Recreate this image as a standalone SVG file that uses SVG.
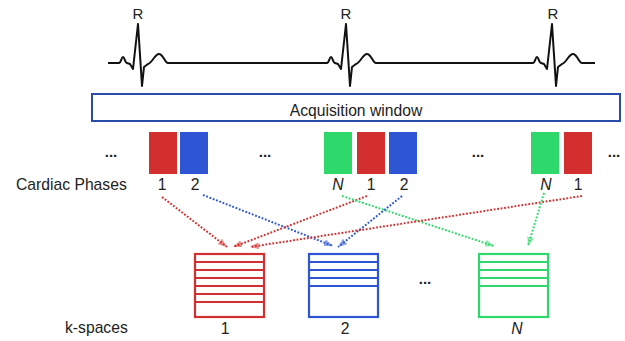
<svg xmlns="http://www.w3.org/2000/svg" width="625" height="341" viewBox="0 0 625 341">
  <style>
    text { font-family: "Liberation Sans", Arial, sans-serif; fill: #222; }
    .lbl { font-size: 15.7px; text-anchor: middle; }
    .side { font-size: 15.7px; }
    .it { font-style: italic; }
    .dots { font-size: 15px; font-weight: bold; text-anchor: middle; }
    .red { fill: #d32f2f; }
    .blue { fill: #2e55d4; }
    .green { fill: #2ed86a; }
    .ks { fill: #fff; stroke-width: 2.2; }
    .ksr { stroke: #d32f2f; }
    .ksb { stroke: #2e55d4; }
    .ksg { stroke: #2ed86a; }
    .link { fill: none; stroke-width: 2; stroke-dasharray: 1.8 1.7; }
    .lr { stroke: #d32f2f; marker-end: url(#ah-r); }
    .lb { stroke: #2e55d4; marker-end: url(#ah-b); }
    .lg { stroke: #2ed86a; marker-end: url(#ah-g); }
  </style>
  <defs>
    <marker id="ah-r" markerUnits="userSpaceOnUse" markerWidth="10" markerHeight="8" refX="9" refY="4" orient="auto">
      <path d="M0,0.5 L9,4 L0,7.5 Z" fill="#d32f2f" opacity="0.55"/>
    </marker>
    <marker id="ah-b" markerUnits="userSpaceOnUse" markerWidth="10" markerHeight="8" refX="9" refY="4" orient="auto">
      <path d="M0,0.5 L9,4 L0,7.5 Z" fill="#2e55d4" opacity="0.55"/>
    </marker>
    <marker id="ah-g" markerUnits="userSpaceOnUse" markerWidth="10" markerHeight="8" refX="9" refY="4" orient="auto">
      <path d="M0,0.5 L9,4 L0,7.5 Z" fill="#2ed86a" opacity="0.55"/>
    </marker>
  </defs>

  <rect width="625" height="341" fill="#fff"/>

  <!-- ECG trace with three R peaks -->
  <g id="ecg">
    <path fill="none" stroke="#111" stroke-width="2" stroke-linejoin="round"
      d="M108,63 L119,63 C121,63 121.5,57 123,57 C124.5,57 125,63 127,63 L130,64 L133,69 L138,24 L142,86 L144,67 L148,64 C152,63 155,54 159,54 C163,54 165,63 168,63
         L327,63 C329,63 329.5,57 331,57 C332.5,57 333,63 335,63 L338,64 L341,69 L346,24 L350,86 L352,67 L356,64 C360,63 363,54 367,54 C371,54 373,63 376,63
         L533,63 C535,63 535.5,57 537,57 C538.5,57 539,63 541,63 L544,64 L547,69 L552,24 L556,86 L558,67 L562,64 C566,63 569,54 573,54 C577,54 579,63 582,63 L595,63"/>
    <text x="138" y="19" class="lbl" style="font-size:15px">R</text>
    <text x="346" y="19" class="lbl" style="font-size:15px">R</text>
    <text x="553" y="19" class="lbl" style="font-size:15px">R</text>
  </g>

  <!-- acquisition window -->
  <g id="acq-window">
    <rect x="92" y="94" width="528" height="27" fill="#fff" stroke="#2b4ba8" stroke-width="2"/>
    <text x="356" y="116" class="lbl">Acquisition window</text>
  </g>

  <!-- acquired cardiac phases -->
  <g id="phases">
    <text x="16" y="190" class="side">Cardiac Phases</text>
    <text x="111" y="157" class="dots">...</text>
    <text x="265" y="157" class="dots">...</text>
    <text x="478" y="157" class="dots">...</text>
    <text x="614" y="157" class="dots">...</text>
  </g>
  <g id="phase-1a"><rect x="149" y="132" width="28" height="42" class="red"/><text x="162" y="190" class="lbl">1</text></g>
  <g id="phase-2a"><rect x="180" y="132" width="28" height="42" class="blue"/><text x="195" y="190" class="lbl">2</text></g>
  <g id="phase-Na"><rect x="324" y="132" width="28" height="42" class="green"/><text x="338" y="190" class="lbl it">N</text></g>
  <g id="phase-1b"><rect x="357" y="132" width="28" height="42" class="red"/><text x="371" y="190" class="lbl">1</text></g>
  <g id="phase-2b"><rect x="389" y="132" width="28" height="42" class="blue"/><text x="404" y="190" class="lbl">2</text></g>
  <g id="phase-Nb"><rect x="531" y="132" width="28" height="42" class="green"/><text x="546" y="190" class="lbl it">N</text></g>
  <g id="phase-1c"><rect x="564" y="132" width="28" height="42" class="red"/><text x="578" y="190" class="lbl">1</text></g>

  <!-- k-space buffers -->
  <g id="kspaces-label">
    <text x="65" y="333" class="side">k-spaces</text>
    <text x="425" y="284" class="dots">...</text>
  </g>
  <g id="kspace-1">
    <rect x="195" y="254" width="69" height="63" class="ks ksr"/>
    <path d="M195,262H264M195,270H264M195,278H264M195,286H264M195,294H264M195,302H264" class="ksr" stroke-width="2.2" fill="none"/>
    <text x="225" y="334" class="lbl">1</text>
  </g>
  <g id="kspace-2">
    <rect x="309" y="254" width="69" height="63" class="ks ksb"/>
    <path d="M309,262H378M309,270H378M309,278H378M309,286H378" class="ksb" stroke-width="2.2" fill="none"/>
    <text x="345" y="334" class="lbl">2</text>
  </g>
  <g id="kspace-N">
    <rect x="479" y="254" width="69" height="63" class="ks ksg"/>
    <path d="M479,262H548M479,270H548M479,278H548M479,286H548" class="ksg" stroke-width="2.2" fill="none"/>
    <text x="517" y="334" class="lbl it">N</text>
  </g>

  <!-- phase to k-space connectors -->
  <g id="connectors">
    <path d="M162,197 L227,247" class="link lr"/>
    <path d="M203,195 L333,246" class="link lb"/>
    <path d="M367,196 L233,247" class="link lr"/>
    <path d="M342,196 L494,246" class="link lg"/>
    <path d="M402,196 L338,247" class="link lb"/>
    <path d="M582,196 L250,247" class="link lr"/>
    <path d="M544,193 L528,246" class="link lg"/>
  </g>
</svg>
